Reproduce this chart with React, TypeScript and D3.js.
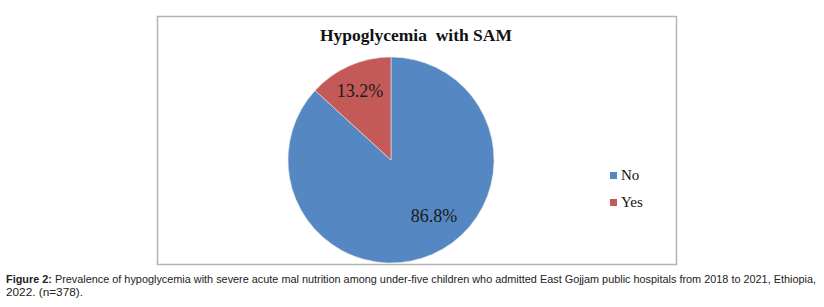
import React from "react";
import * as d3 from "d3";

const categories = ["No", "Yes"];
const values = [86.8, 13.2];
const labels = ["86.8%", "13.2%"];
const colors = ["#5587C3", "#C45A57"];
const title = "Hypoglycemia  with SAM";
const captionBold = "Figure 2:";
const captionLine1 = " Prevalence of hypoglycemia with severe acute mal nutrition among under-five children who admitted East Gojjam public hospitals from 2018 to 2021, Ethiopia,";
const captionLine2 = "2022. (n=378).";

export default function App() {
  const W = 824, H = 307;
  const cx = 391, cy = 160, r = 103;
  const pie = d3.pie<number>().sort(null).value((d) => d).startAngle(0).endAngle(2 * Math.PI);
  const arcs = pie(values);
  const arc = d3.arc<d3.PieArcDatum<number>>().innerRadius(0).outerRadius(r);
  const labelPos = [
    [434, 222],
    [360, 97],
  ];
  return (
    <svg width={W} height={H} style={{ position: "absolute", left: 0, top: 0 }}>
      <rect x={0} y={0} width={W} height={H} fill="#fff" />
      <rect x={157.5} y={16.5} width={519} height={248} fill="#fff" stroke="#b4b4b4" strokeWidth={1.5} />
      <text x={416} y={41} textAnchor="middle" fontFamily="Liberation Serif" fontWeight="bold" fontSize={17.5} fill="#111" style={{ whiteSpace: "pre" }}>
        {title}
      </text>
      <g transform={`translate(${cx},${cy})`}>
        {arcs.map((a, i) => (
          <path key={i} d={arc(a) || ""} fill={colors[i]} stroke="#e8e8e8" strokeWidth={0.6} />
        ))}
      </g>
      {labels.map((l, i) => (
        <text key={i} x={labelPos[i][0]} y={labelPos[i][1]} textAnchor="middle" fontFamily="Liberation Serif" fontSize={18} fill="#1a1a1a">
          {l}
        </text>
      ))}
      {categories.map((c, i) => (
        <g key={c} transform={`translate(610, ${172 + i * 27})`}>
          <rect x={0} y={0} width={7} height={7} fill={colors[i]} />
          <text x={11} y={8} fontFamily="Liberation Serif" fontSize={15} fill="#111">
            {c}
          </text>
        </g>
      ))}
      <text x={6} y={283} fontFamily="Liberation Sans" fontSize={11} fill="#222" textLength={810} lengthAdjust="spacingAndGlyphs">
        <tspan fontWeight="bold">{captionBold}</tspan>
        {captionLine1}
      </text>
      <text x={6} y={296} fontFamily="Liberation Sans" fontSize={11} fill="#222" textLength={77} lengthAdjust="spacingAndGlyphs">
        {captionLine2}
      </text>
    </svg>
  );
}
